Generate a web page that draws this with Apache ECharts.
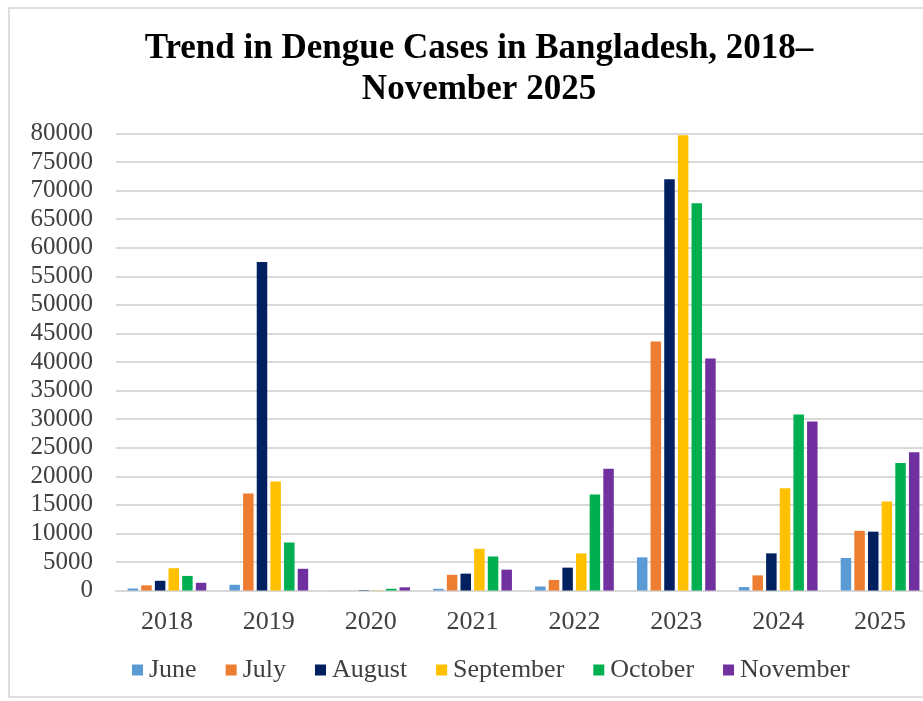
<!DOCTYPE html>
<html>
<head>
<meta charset="utf-8">
<script src="https://cdn.jsdelivr.net/npm/echarts@6/dist/echarts.min.js"></script>
<style>
  html, body { margin: 0; padding: 0; background: #fff; overflow: hidden; }
  #chart { width: 940px; height: 701px; }
</style>
</head>
<body>
<div id="chart"></div>
<script>
const years = ["2018", "2019", "2020", "2021", "2022", "2023", "2024", "2025"];
const june = [350, 1000, 20, 300, 700, 5800, 600, 5700];
const july = [900, 17000, 20, 2750, 1850, 43600, 2650, 10450];
const august = [1700, 57500, 70, 2950, 4000, 72000, 6500, 10300];
const september = [3900, 19100, 50, 7300, 6500, 79700, 17900, 15600];
const october = [2550, 8400, 300, 5950, 16800, 67800, 30800, 22300];
const november = [1350, 3800, 550, 3650, 21300, 40600, 29600, 24200];

const months = [
  { name: "June", data: june, color: "#5B9BD5" },
  { name: "July", data: july, color: "#ED7D31" },
  { name: "August", data: august, color: "#002060" },
  { name: "September", data: september, color: "#FFC000" },
  { name: "October", data: october, color: "#00B050" },
  { name: "November", data: november, color: "#7030A0" },
];

const serif = "'Liberation Serif', 'DejaVu Serif', serif";

// the chart is wider than the window on purpose: the last group is cut off at the right edge
const chart = echarts.init(document.getElementById("chart"));
const option = {
  animation: false,
  backgroundColor: "#fff",
  graphic: [
    {
      type: "rect",
      shape: { x: 9, y: 8, width: 1000, height: 689 },
      style: { fill: "none", stroke: "#d4d4d4", lineWidth: 1.5 },
      silent: true,
    },
  ],
  title: {
    text: "Trend in Dengue Cases in Bangladesh, 2018–\nNovember 2025",
    left: 474,
    textAlign: "center",
    top: 23,
    textStyle: {
      fontFamily: serif,
      fontWeight: "bold",
      fontSize: 35,
      lineHeight: 41,
      color: "#000",
    },
  },
  legend: {
    left: 127,
    top: 652,
    itemWidth: 11,
    itemHeight: 11,
    itemGap: 29,
    icon: "rect",
    textStyle: { fontFamily: serif, fontSize: 26, color: "#404040", padding: [0, 0, 0, 1] },
    data: months.map((m) => m.name),
  },
  grid: { left: 116, top: 133.5, width: 815, height: 457, containLabel: false },
  xAxis: {
    type: "category",
    data: years,
    axisLine: { lineStyle: { color: "#d9d9d9", width: 2 } },
    axisTick: { show: false },
    axisLabel: { fontFamily: serif, fontSize: 26, color: "#404040", margin: 19 },
  },
  yAxis: {
    type: "value",
    min: 0,
    max: 80000,
    interval: 5000,
    axisLine: { show: false },
    axisTick: { show: false },
    splitLine: { lineStyle: { color: "#d9d9d9", width: 2 } },
    axisLabel: {
      fontFamily: serif,
      fontSize: 25,
      color: "#404040",
      margin: 23,
      formatter: (v) => String(v),
    },
  },
  series: months.map((m) => ({
    name: m.name,
    type: "bar",
    data: m.data,
    barWidth: 10.5,
    barGap: "30%",
    itemStyle: { color: m.color },
  })),
};
chart.setOption(option);
</script>
</body>
</html>
